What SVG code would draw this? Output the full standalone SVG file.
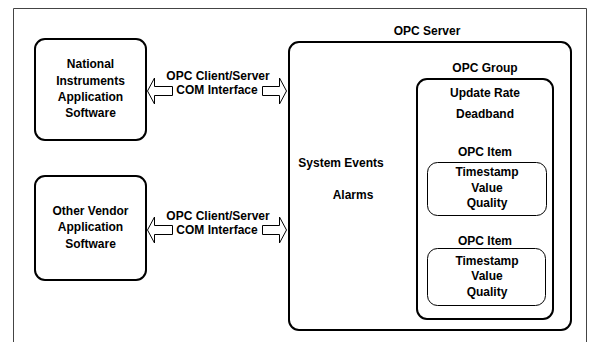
<svg xmlns="http://www.w3.org/2000/svg" width="591" height="342" viewBox="0 0 591 342">
  <style>
    text { font-family: "Liberation Sans", Arial, sans-serif; font-weight: bold; font-size: 12px; fill: #000; text-anchor: middle; }
    .box { fill: #fff; stroke: #000; stroke-width: 2; }
    .item { fill: #fff; stroke: #000; stroke-width: 1; }
    .arrow { fill: #fff; stroke: #000; stroke-width: 1; stroke-linejoin: miter; }
    .frame { fill: none; stroke: #444; stroke-width: 1; }
  </style>
  <defs>
    <!-- hollow block arrows, origin at vertical centre of the pair -->
    <path id="arrow-left" d="M147.5 0 L154.5 -13 V-4.5 H172.5 V4.5 H154.5 V13 Z"/>
    <path id="arrow-right" d="M286.5 0 L279.5 -13 V-4.5 H262.5 V4.5 H279.5 V13 Z"/>
  </defs>

  <rect width="591" height="342" fill="#fff"/>
  <path class="frame" d="M13.5 342 V8.5 H586.5 V342"/>

  <g id="ni-app">
    <rect class="box" x="35" y="39" width="111" height="101" rx="10"/>
    <text x="90.5" y="68">National</text>
    <text x="90.5" y="85">Instruments</text>
    <text x="90.5" y="101">Application</text>
    <text x="90.5" y="117">Software</text>
  </g>

  <g id="vendor-app">
    <rect class="box" x="35" y="176" width="111" height="104" rx="10"/>
    <text x="90.5" y="215">Other Vendor</text>
    <text x="90.5" y="231">Application</text>
    <text x="90.5" y="248">Software</text>
  </g>

  <g id="opc-server">
    <text x="427" y="35">OPC Server</text>
    <rect class="box" x="289" y="42" width="282" height="288" rx="10"/>
    <text x="341" y="167">System Events</text>
    <text x="353" y="199">Alarms</text>
  </g>

  <g id="opc-group">
    <text x="485" y="72">OPC Group</text>
    <rect class="box" x="417" y="79" width="136" height="240" rx="10"/>
    <text x="485" y="97">Update Rate</text>
    <text x="485" y="118">Deadband</text>
  </g>

  <g id="opc-item-1">
    <text x="485" y="156">OPC Item</text>
    <rect class="item" x="427.5" y="162.5" width="119" height="53" rx="10"/>
    <text x="487" y="176">Timestamp</text>
    <text x="487" y="192">Value</text>
    <text x="487" y="207">Quality</text>
  </g>

  <g id="opc-item-2">
    <text x="485" y="245">OPC Item</text>
    <rect class="item" x="427.5" y="248.5" width="118" height="57" rx="10"/>
    <text x="487" y="265">Timestamp</text>
    <text x="487" y="280">Value</text>
    <text x="487" y="296">Quality</text>
  </g>

  <g id="connectors">
    <g transform="translate(0 91)">
      <use href="#arrow-left" class="arrow"/>
      <use href="#arrow-right" class="arrow"/>
      <text x="218" y="-11">OPC Client/Server</text>
      <text x="217" y="3">COM Interface</text>
    </g>
    <g transform="translate(0 230)">
      <use href="#arrow-left" class="arrow"/>
      <use href="#arrow-right" class="arrow"/>
      <text x="218" y="-10">OPC Client/Server</text>
      <text x="217" y="4">COM Interface</text>
    </g>
  </g>
</svg>
